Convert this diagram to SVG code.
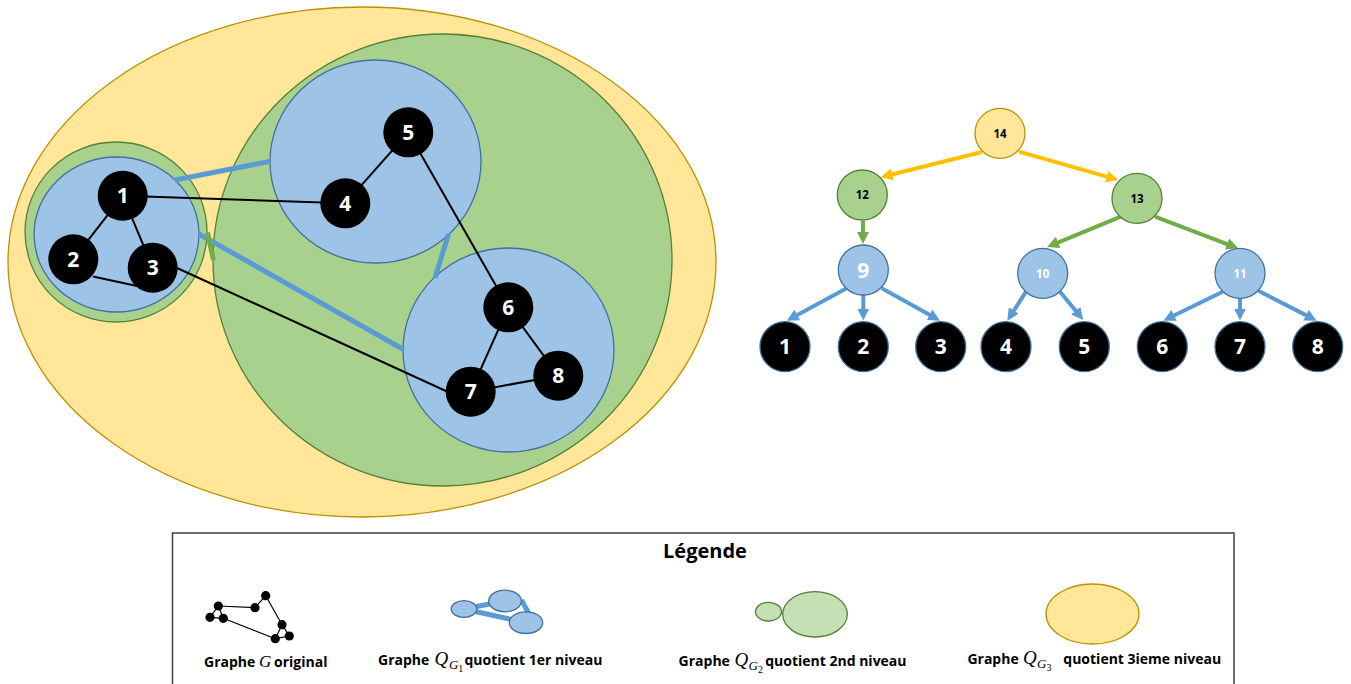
<svg xmlns="http://www.w3.org/2000/svg" width="1351" height="684" viewBox="0 0 1351 684">
<style>
.y{fill:#FFE699;stroke:#BF9000;stroke-width:1.3}
.g{fill:#A9D18E;stroke:#538135;stroke-width:1.3}
.b{fill:#9DC3E6;stroke:#41719C;stroke-width:1.3}
.n{fill:#000000}
.leaf{fill:#000000;stroke:#41719C;stroke-width:1.3}
.lbl{font-family:"Open Sans","Liberation Sans",sans-serif;font-weight:700;font-size:21px;fill:#FFFFFF;text-anchor:middle}
.sm{font-family:"Open Sans","Liberation Sans",sans-serif;font-weight:700;font-size:11.5px;text-anchor:middle}
.e{stroke:#000000;stroke-width:2;fill:none}
.q{stroke:#5B9BD5;stroke-width:5;fill:none}
.ay{stroke:#FFC000;stroke-width:4;fill:none}
.ag{stroke:#70AD47;stroke-width:4;fill:none}
.ab{stroke:#5B9BD5;stroke-width:4;fill:none}
.lt{font-family:"Open Sans","Liberation Sans",sans-serif;font-weight:700;font-size:14px;fill:#000000}
.m{font-family:"Liberation Serif","DejaVu Serif",serif;font-style:italic;fill:#000000}
.d{font-family:"Liberation Serif","DejaVu Serif",serif;fill:#000000}
</style>
<defs>
<marker id="my" viewBox="0 0 12 12" refX="3.6" refY="6" markerWidth="12" markerHeight="12" markerUnits="userSpaceOnUse" orient="auto"><path d="M0,0 L12,6 L0,12 z" fill="#FFC000"/></marker>
<marker id="mg" viewBox="0 0 12 12" refX="3.6" refY="6" markerWidth="12" markerHeight="12" markerUnits="userSpaceOnUse" orient="auto"><path d="M0,0 L12,6 L0,12 z" fill="#70AD47"/></marker>
<marker id="mb" viewBox="0 0 12 12" refX="3.6" refY="6" markerWidth="12" markerHeight="12" markerUnits="userSpaceOnUse" orient="auto"><path d="M0,0 L12,6 L0,12 z" fill="#5B9BD5"/></marker>
</defs>

<!-- Left: nested quotient graph -->
<g id="level3">
<ellipse class="y" cx="362" cy="262" rx="354" ry="255"/>
</g>
<g id="level2-big">
<ellipse class="g" cx="442.5" cy="260" rx="229.5" ry="226"/>
</g>
<g id="level2-small">
<ellipse class="g" cx="116" cy="232" rx="91" ry="90"/>
</g>
<g id="level1-a">
<ellipse class="b" cx="116.5" cy="234.5" rx="82.5" ry="77.5"/>
</g>
<g id="level1-b">
<ellipse class="b" cx="375.5" cy="161.5" rx="105.5" ry="101.5"/>
</g>
<g id="level1-c">
<ellipse class="b" cx="508.5" cy="350" rx="105.5" ry="102"/>
</g>

<g id="connectors">
<line class="q" x1="175" y1="180" x2="269.5" y2="161.5"/>
<line class="q" x1="199" y1="234" x2="403.5" y2="349.5"/>
<line class="q" x1="448.5" y1="234" x2="435" y2="278"/>
<line x1="207.5" y1="232.5" x2="213.5" y2="260" stroke="#70AD47" stroke-width="5"/>
<line class="e" x1="122.7" y1="195.7" x2="73.3" y2="259.3"/>
<line class="e" x1="122.7" y1="195.7" x2="152.7" y2="267.7"/>
<line class="e" x1="93" y1="276.5" x2="137" y2="286"/>
<line class="e" x1="122.7" y1="195.7" x2="345.3" y2="203.3"/>
<line class="e" x1="345.3" y1="203.3" x2="408.3" y2="132.3"/>
<line class="e" x1="408.3" y1="132.3" x2="508.3" y2="307.3"/>
<line class="e" x1="177" y1="268" x2="447" y2="391.5"/>
<line class="e" x1="508.3" y1="307.3" x2="470.7" y2="391.7"/>
<line class="e" x1="508.3" y1="307.3" x2="558.3" y2="375.7"/>
<line class="e" x1="470.7" y1="391.7" x2="558.3" y2="375.7"/>
<!-- tree arrows -->
<line class="ay" x1="982" y1="152" x2="888.8" y2="175.3" marker-end="url(#my)"/>
<line class="ay" x1="1019" y1="151.7" x2="1110.2" y2="177.7" marker-end="url(#my)"/>
<line class="ag" x1="863" y1="221" x2="863" y2="235.6" marker-end="url(#mg)"/>
<line class="ag" x1="1120.7" y1="216.7" x2="1054.8" y2="243.8" marker-end="url(#mg)"/>
<line class="ag" x1="1155" y1="216.7" x2="1230.4" y2="245.3" marker-end="url(#mg)"/>
<line class="ab" x1="846.7" y1="288.3" x2="794.1" y2="316.7" marker-end="url(#mb)"/>
<line class="ab" x1="863.3" y1="295" x2="863.3" y2="312.1" marker-end="url(#mb)"/>
<line class="ab" x1="881.7" y1="288.3" x2="932.7" y2="316.6" marker-end="url(#mb)"/>
<line class="ab" x1="1026" y1="291.7" x2="1011.9" y2="313.6" marker-end="url(#mb)"/>
<line class="ab" x1="1060" y1="291.7" x2="1078" y2="313.5" marker-end="url(#mb)"/>
<line class="ab" x1="1222.7" y1="291.7" x2="1170.9" y2="317" marker-end="url(#mb)"/>
<line class="ab" x1="1240" y1="298.3" x2="1240" y2="312.1" marker-end="url(#mb)"/>
<line class="ab" x1="1258.3" y1="290.7" x2="1309.2" y2="316.9" marker-end="url(#mb)"/>
</g>

<g id="n1"><circle class="n" cx="122.7" cy="195.7" r="25"/><text class="lbl" x="122.7" y="203.3">1</text></g>
<g id="n2"><circle class="n" cx="73.3" cy="259.3" r="25"/><text class="lbl" x="73.3" y="266.9">2</text></g>
<g id="n3"><circle class="n" cx="152.7" cy="267.7" r="25"/><text class="lbl" x="152.7" y="275.3">3</text></g>
<g id="n4"><circle class="n" cx="345.3" cy="203.3" r="25"/><text class="lbl" x="345.3" y="210.9">4</text></g>
<g id="n5"><circle class="n" cx="408.3" cy="132.3" r="25"/><text class="lbl" x="408.3" y="139.9">5</text></g>
<g id="n6"><circle class="n" cx="508.3" cy="307.3" r="25"/><text class="lbl" x="508.3" y="314.9">6</text></g>
<g id="n7"><circle class="n" cx="470.7" cy="391.7" r="25"/><text class="lbl" x="470.7" y="399.3">7</text></g>
<g id="n8"><circle class="n" cx="558.3" cy="375.7" r="25"/><text class="lbl" x="558.3" y="383.3">8</text></g>

<!-- Tree -->
<g id="t14"><circle class="y" cx="1000" cy="133.3" r="25"/><text class="sm" x="1000" y="137.5">14</text></g>
<g id="t12"><circle class="g" cx="862.3" cy="195" r="25"/><text class="sm" x="862.3" y="199.2">12</text></g>
<g id="t13"><circle class="g" cx="1137" cy="198.3" r="25"/><text class="sm" x="1137" y="202.5">13</text></g>
<g id="t9"><circle class="b" cx="863.3" cy="270" r="25"/><text class="lbl" x="863.3" y="277.6">9</text></g>
<g id="t10"><circle class="b" cx="1042.7" cy="273.3" r="25"/><text class="sm" x="1042.7" y="277.5" fill="#FFFFFF">10</text></g>
<g id="t11"><circle class="b" cx="1240" cy="273.3" r="25"/><text class="sm" x="1240" y="277.5" fill="#FFFFFF">11</text></g>
<g id="t1"><circle class="leaf" cx="785" cy="346.7" r="25"/><text class="lbl" x="785" y="354.3">1</text></g>
<g id="t2"><circle class="leaf" cx="863.3" cy="346.7" r="25"/><text class="lbl" x="863.3" y="354.3">2</text></g>
<g id="t3"><circle class="leaf" cx="940.7" cy="346.7" r="25"/><text class="lbl" x="940.7" y="354.3">3</text></g>
<g id="t4"><circle class="leaf" cx="1006" cy="346.7" r="25"/><text class="lbl" x="1006" y="354.3">4</text></g>
<g id="t5"><circle class="leaf" cx="1084.3" cy="346.7" r="25"/><text class="lbl" x="1084.3" y="354.3">5</text></g>
<g id="t6"><circle class="leaf" cx="1162.3" cy="346.7" r="25"/><text class="lbl" x="1162.3" y="354.3">6</text></g>
<g id="t7"><circle class="leaf" cx="1240" cy="346.7" r="25"/><text class="lbl" x="1240" y="354.3">7</text></g>
<g id="t8"><circle class="leaf" cx="1317.7" cy="346.7" r="25"/><text class="lbl" x="1317.7" y="354.3">8</text></g>

<!-- Legend -->
<g id="legend">
<rect x="172.5" y="533" width="1061.5" height="160" fill="#FFFFFF" stroke="#404040" stroke-width="1.5"/>
<text x="705" y="558" text-anchor="middle" style="font-family:'Open Sans','Liberation Sans',sans-serif;font-weight:700;font-size:20px">Légende</text>

<g id="leg-g" stroke="#000000" stroke-width="1.2">
<line x1="218.3" y1="606" x2="210" y2="617.3"/>
<line x1="218.3" y1="606" x2="223.3" y2="618.3"/>
<line x1="210" y1="617.3" x2="223.3" y2="618.3"/>
<line x1="218.3" y1="606" x2="255" y2="607.7"/>
<line x1="255" y1="607.7" x2="265.7" y2="595.7"/>
<line x1="265.7" y1="595.7" x2="282" y2="624.7"/>
<line x1="223.3" y1="618.3" x2="275.3" y2="638.7"/>
<line x1="282" y1="624.7" x2="275.3" y2="638.7"/>
<line x1="282" y1="624.7" x2="289.3" y2="636"/>
<line x1="275.3" y1="638.7" x2="289.3" y2="636"/>
<g fill="#000000" stroke="none">
<circle cx="218.3" cy="606" r="4.6"/><circle cx="210" cy="617.3" r="4.6"/><circle cx="223.3" cy="618.3" r="4.6"/>
<circle cx="255" cy="607.7" r="4.6"/><circle cx="265.7" cy="595.7" r="4.6"/><circle cx="282" cy="624.7" r="4.6"/>
<circle cx="275.3" cy="638.7" r="4.6"/><circle cx="289.3" cy="636" r="4.6"/>
</g>
</g>
<text class="lt" x="204" y="667">Graphe</text>
<text class="m" x="259" y="667" font-size="17">G</text>
<text class="lt" x="274" y="667">original</text>

<g id="leg-q1">
<line class="q" x1="464" y1="609" x2="505" y2="601"/>
<line class="q" x1="464" y1="609" x2="526" y2="622.7"/>
<line class="q" x1="521.5" y1="600" x2="529" y2="614"/>
<ellipse class="b" cx="464" cy="609" rx="12.8" ry="8.3"/>
<ellipse class="b" cx="505" cy="601" rx="16.3" ry="10.8"/>
<ellipse class="b" cx="526" cy="622.7" rx="16.7" ry="10.8"/>
</g>
<text class="lt" x="378" y="665">Graphe</text>
<text class="m" x="434.5" y="665" font-size="19">Q</text>
<text class="m" x="449" y="669" font-size="13">G</text>
<text class="d" x="458.3" y="672" font-size="10">1</text>
<text class="lt" x="464.5" y="665">quotient 1er niveau</text>

<g id="leg-q2">
<ellipse cx="768.5" cy="611.7" rx="13" ry="9.3" fill="#C5E0B4" stroke="#538135" stroke-width="1.3"/>
<ellipse cx="815" cy="614.3" rx="32.3" ry="22.7" fill="#C5E0B4" stroke="#538135" stroke-width="1.3"/>
</g>
<text class="lt" x="678.6" y="666">Graphe</text>
<text class="m" x="734.5" y="666" font-size="19">Q</text>
<text class="m" x="748.5" y="670" font-size="13">G</text>
<text class="d" x="758" y="673" font-size="10">2</text>
<text class="lt" x="765.2" y="666">quotient 2nd niveau</text>

<g id="leg-q3">
<ellipse class="y" cx="1092.5" cy="614" rx="46.5" ry="30"/>
</g>
<text class="lt" x="967.4" y="663.5">Graphe</text>
<text class="m" x="1023" y="663.5" font-size="19">Q</text>
<text class="m" x="1037" y="667.5" font-size="13">G</text>
<text class="d" x="1046.5" y="670.5" font-size="10">3</text>
<text class="lt" x="1063.3" y="663.5">quotient 3ieme niveau</text>
</g>
</svg>
